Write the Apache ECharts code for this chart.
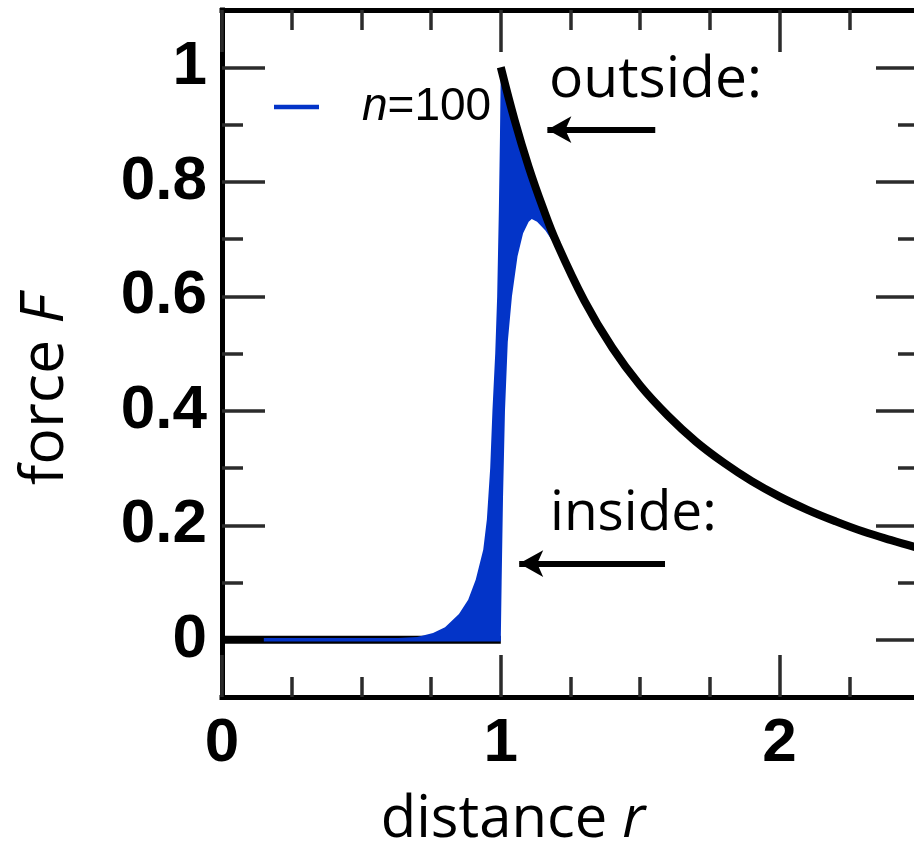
<!DOCTYPE html>
<html>
<head>
<meta charset="utf-8">
<script src="https://cdn.jsdelivr.net/npm/echarts@6/dist/echarts.min.js"></script>
<style>
  html, body { margin: 0; padding: 0; background: #fff; }
  #chart { width: 914px; height: 845px; }
</style>
</head>
<body>
<div id="chart"></div>
<script>
// Force outside the shell (r >= 1)
const outsideR = [1.0, 1.05, 1.1, 1.15, 1.2, 1.3, 1.4, 1.5, 1.6, 1.7, 1.8, 1.9, 2.0, 2.1, 2.2, 2.3, 2.4, 2.5];
const outsideF = [1.0, 0.907, 0.826, 0.756, 0.694, 0.592, 0.510, 0.444, 0.391, 0.346, 0.309, 0.277, 0.250, 0.227, 0.207, 0.189, 0.174, 0.160];

// Outside curve is zero inside the shell (r < 1)
const zeroR = [0, 1];
const zeroF = [0, 0];

// n = 100 trace: upper edge of the band, left to right
const bandUpperR = [0.15, 0.5, 0.6, 0.7, 0.757, 0.8, 0.818, 0.85, 0.883, 0.91, 0.937, 0.95, 0.962, 0.97, 0.98, 0.987, 0.993, 0.997, 1.0,
                    1.05, 1.1, 1.15, 1.2];
const bandUpperF = [0.0, 0.0005, 0.002, 0.005, 0.012, 0.022, 0.03, 0.045, 0.07, 0.105, 0.157, 0.21, 0.3, 0.4, 0.5, 0.6, 0.75, 0.88, 1.0,
                    0.907, 0.826, 0.756, 0.694];
// n = 100 trace: lower edge of the band, right to left
const bandLowerR = [1.2, 1.16, 1.13, 1.111, 1.1, 1.08, 1.06, 1.04, 1.025, 1.015, 1.008, 1.003, 1.0, 0.15];
const bandLowerF = [0.685, 0.715, 0.73, 0.735, 0.73, 0.71, 0.67, 0.6, 0.52, 0.4, 0.25, 0.1, 0.0, 0.0];

// n = 100 trace along F = 0
const traceR = [0.15, 1.0];
const traceF = [0, 0];

// Annotation arrows [tailR, tailF, tipR, tipF]
const arrowOutside = [1.554, 0.891, 1.167, 0.891];
const arrowInside = [1.589, 0.133, 1.066, 0.133];

// Axis ticks and labels
const xMajorTicks = [0, 1, 2];
const xMinorTicks = [0.25, 0.5, 0.75, 1.25, 1.5, 1.75, 2.25];
const yMajorTicks = [0, 0.2, 0.4, 0.6, 0.8, 1];
const yMinorTicks = [0.1, 0.3, 0.5, 0.7, 0.9];

const BLUE = '#0334c8';
const TICK = '#2b2b2b';
const zip = (a, b) => a.map((v, i) => [v, b[i]]);

const chart = echarts.init(document.getElementById('chart'));

const tickFont = { color: '#000', fontFamily: 'Liberation Sans', fontWeight: 'bold', fontSize: 62 };

function xAxis(position, ticks, len, withLine, labels) {
  return {
    type: 'value', gridIndex: 0, min: 0, max: 2.5, position: position,
    splitLine: { show: false },
    axisLine: { show: withLine, onZero: false, lineStyle: { color: '#000', width: 5, cap: 'square' } },
    axisTick: { show: true, inside: true, length: len, customValues: ticks, lineStyle: { color: TICK, width: 3.5 } },
    axisLabel: labels ? Object.assign({ show: true, customValues: labels, margin: 16 }, tickFont) : { show: false }
  };
}
function yAxis(position, ticks, len, withLine, labels) {
  return {
    type: 'value', gridIndex: 0, min: -0.1, max: 1.1, position: position,
    splitLine: { show: false },
    axisLine: { show: withLine, onZero: false, lineStyle: { color: '#000', width: 5, cap: 'square' } },
    axisTick: { show: true, inside: true, length: len, customValues: ticks, lineStyle: { color: TICK, width: 3.5 } },
    axisLabel: labels ? Object.assign({ show: true, customValues: labels, margin: 15 }, tickFont) : { show: false }
  };
}

const textFont = '"Open Sans", "Noto Sans", sans-serif';

chart.setOption({
  animation: false,
  backgroundColor: '#fff',
  grid: { left: 222, right: -5, top: 10, bottom: 148, outerBoundsMode: 'none', containLabel: false },
  xAxis: [
    xAxis('bottom', xMajorTicks, 42, true, xMajorTicks),
    xAxis('bottom', xMinorTicks, 20, false, null),
    xAxis('top', xMajorTicks, 42, true, null),
    xAxis('top', xMinorTicks, 20, false, null)
  ],
  yAxis: [
    yAxis('left', yMajorTicks, 43, true, yMajorTicks),
    yAxis('left', yMinorTicks, 21, false, null),
    yAxis('right', yMajorTicks, 43, true, null),
    yAxis('right', yMinorTicks, 21, false, null)
  ],
  legend: {
    left: 274, top: 84, orient: 'vertical', padding: 0,
    itemWidth: 45, itemHeight: 4.5,
    data: [{ name: 'n=100', icon: 'rect', itemStyle: { color: BLUE } }],
    formatter: () => '{g|}{i|n}{t|=100}',
    textStyle: {
      color: '#000', fontFamily: 'Liberation Sans', fontSize: 46,
      rich: {
        g: { width: 38 },
        i: { fontStyle: 'italic', fontFamily: 'Liberation Sans', fontSize: 46, color: '#000' },
        t: { fontFamily: 'Liberation Sans', fontSize: 46, color: '#000' }
      }
    }
  },
  series: [
    {
      type: 'line', name: 'outside-zero', xAxisIndex: 0, yAxisIndex: 0,
      data: zip(zeroR, zeroF), symbol: 'none', z: 2,
      lineStyle: { color: '#000', width: 8 }
    },
    {
      type: 'custom', name: 'n=100', xAxisIndex: 0, yAxisIndex: 0, z: 3,
      data: [[0, 0]],
      itemStyle: { color: BLUE },
      renderItem: function (params, api) {
        const pts = [];
        for (let i = 0; i < bandUpperR.length; i++) pts.push(api.coord([bandUpperR[i], bandUpperF[i]]));
        for (let i = 0; i < bandLowerR.length; i++) pts.push(api.coord([bandLowerR[i], bandLowerF[i]]));
        return { type: 'polygon', shape: { points: pts }, style: { fill: BLUE } };
      }
    },
    {
      type: 'line', name: 'n=100 trace', xAxisIndex: 0, yAxisIndex: 0,
      data: zip(traceR, traceF), symbol: 'none', z: 4,
      lineStyle: { color: BLUE, width: 3.5 }
    },
    {
      type: 'line', name: 'outside', xAxisIndex: 0, yAxisIndex: 0,
      data: zip(outsideR, outsideF), symbol: 'none', smooth: 0.4, z: 5,
      lineStyle: { color: '#000', width: 8 },
      markLine: {
        silent: true, animation: false,
        symbol: ['none', 'arrow'], symbolSize: [20, 24],
        label: { show: false },
        lineStyle: { color: '#000', width: 6, type: 'solid' },
        data: [
          [{ coord: [arrowOutside[0], arrowOutside[1]] }, { coord: [arrowOutside[2], arrowOutside[3]] }],
          [{ coord: [arrowInside[0], arrowInside[1]] }, { coord: [arrowInside[2], arrowInside[3]] }]
        ]
      }
    }
  ],
  graphic: [
    {
      type: 'text', x: 46, y: 390, rotation: Math.PI / 2,
      style: {
        text: '{a|force }{b|F}', align: 'center', verticalAlign: 'middle',
        rich: {
          a: { fontFamily: textFont, fontSize: 61, fill: '#000' },
          b: { fontFamily: textFont, fontSize: 61, fontStyle: 'italic', fill: '#000' }
        }
      }
    },
    {
      type: 'text', x: 513, y: 820,
      style: {
        text: '{a|distance }{b|r}', align: 'center', verticalAlign: 'middle',
        rich: {
          a: { fontFamily: textFont, fontSize: 58, fill: '#000' },
          b: { fontFamily: textFont, fontSize: 58, fontStyle: 'italic', fill: '#000' }
        }
      }
    },
    {
      type: 'text', x: 549, y: 81,
      style: { text: 'outside:', fontFamily: textFont, fontSize: 57, fill: '#000', align: 'left', verticalAlign: 'middle' }
    },
    {
      type: 'text', x: 550, y: 514,
      style: { text: 'inside:', fontFamily: textFont, fontSize: 55, fill: '#000', align: 'left', verticalAlign: 'middle' }
    }
  ]
});
</script>
</body>
</html>
